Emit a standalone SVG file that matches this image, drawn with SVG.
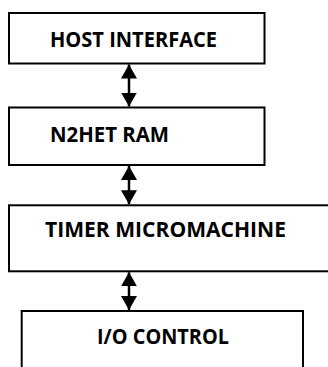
<svg xmlns="http://www.w3.org/2000/svg" width="328" height="367" viewBox="0 0 328 367">
<style>
.box{fill:#fff;stroke:#000;stroke-width:2}
.lbl{font-family:"Open Sans","Noto Sans","Liberation Sans",sans-serif;font-weight:bold;font-size:21px;fill:#000}
.conn{stroke:#000;stroke-width:2.5;fill:none;marker-start:url(#ah);marker-end:url(#ah)}
</style>
<defs>
<marker id="ah" viewBox="0 0 14 16" refX="14" refY="8" markerWidth="14" markerHeight="16" markerUnits="userSpaceOnUse" orient="auto-start-reverse">
<path d="M0,0 L14,8 L0,16 z" fill="#000"/>
</marker>
</defs>
<rect width="328" height="367" fill="#fff"/>
<g id="host-interface">
<rect class="box" x="9" y="13" width="255.5" height="50.5"/>
<text class="lbl" x="50" y="47" textLength="167" lengthAdjust="spacingAndGlyphs">HOST INTERFACE</text>
</g>
<g id="n2het-ram">
<rect class="box" x="9" y="107.5" width="255.5" height="57.5"/>
<text class="lbl" x="50" y="142" textLength="119" lengthAdjust="spacingAndGlyphs">N2HET RAM</text>
</g>
<g id="timer-micromachine">
<rect class="box" x="9" y="205.3" width="330" height="66"/>
<text class="lbl" x="45" y="237" textLength="241" lengthAdjust="spacingAndGlyphs">TIMER MICROMACHINE</text>
</g>
<g id="io-control">
<rect class="box" x="21.7" y="311" width="281.3" height="70"/>
<text class="lbl" x="97" y="344" textLength="132" lengthAdjust="spacingAndGlyphs">I/O CONTROL</text>
</g>
<g id="connectors">
<line class="conn" x1="129" y1="64.5" x2="129" y2="106.5"/>
<line class="conn" x1="129" y1="166" x2="129" y2="204.3"/>
<line class="conn" x1="129" y1="272.3" x2="129" y2="310"/>
</g>
</svg>
